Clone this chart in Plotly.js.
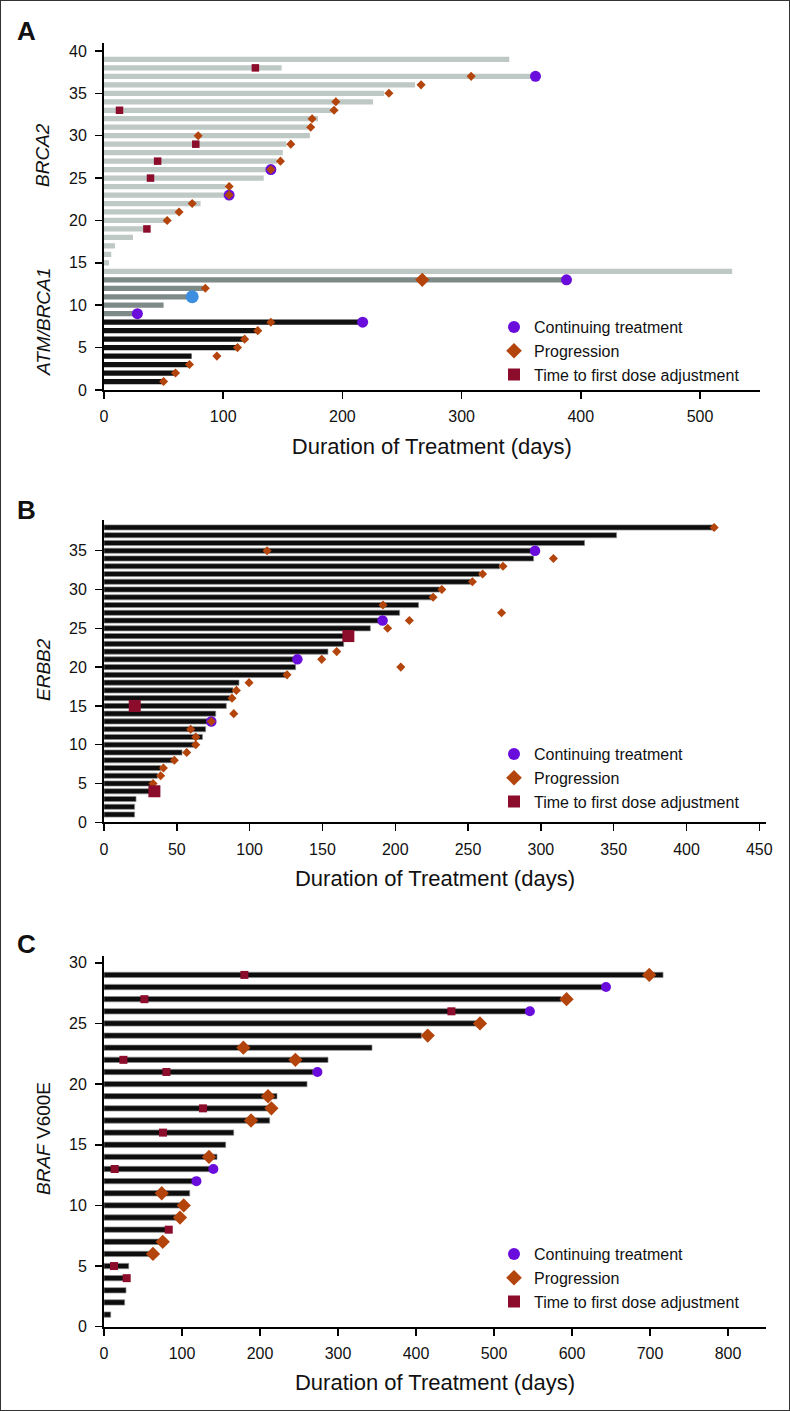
<!DOCTYPE html>
<html>
<head>
<meta charset="utf-8">
<script src="https://cdn.plot.ly/plotly-3.0.1.min.js"></script>
<style>
	html, body { margin: 0; padding: 0; background: #fff; }
	#wrap { position: relative; width: 790px; height: 1411px; }
	#chart { position: absolute; left: 0; top: 0; width: 790px; height: 1411px; }
	#frame { position: absolute; left: 0; top: 0; width: 790px; height: 1411px; box-sizing: border-box; border: 1.5px solid #333; pointer-events: none; }
</style>
</head>
<body>
<div id="wrap"><div id="chart"></div><div id="frame"></div></div>
<script>

/**
* Panel A - BRCA2 / ATM / BRCA1 (days on treatment, rows 1..39)
*/
const aDays = [49, 59.5, 72, 73.5, 112, 118, 128, 217, 27.5, 50, 73.5, 83, 387, 527,
	4.2, 6.1, 9.2, 24.3, 35.7, 52.5, 63.5, 81, 101, 102, 134, 138, 145, 150, 153,
	172.7, 171, 179.6, 191, 225.7, 235, 261, 362, 149, 340];
const aGroup = ['ATM', 'ATM', 'ATM', 'ATM', 'ATM', 'ATM', 'ATM', 'ATM',
	'BRCA1', 'BRCA1', 'BRCA1', 'BRCA1', 'BRCA1',
	'BRCA2', 'BRCA2', 'BRCA2', 'BRCA2', 'BRCA2', 'BRCA2', 'BRCA2', 'BRCA2', 'BRCA2',
	'BRCA2', 'BRCA2', 'BRCA2', 'BRCA2', 'BRCA2', 'BRCA2', 'BRCA2', 'BRCA2', 'BRCA2',
	'BRCA2', 'BRCA2', 'BRCA2', 'BRCA2', 'BRCA2', 'BRCA2', 'BRCA2', 'BRCA2'];
const aContDays = [362, 140, 105, 388, 28, 217];
const aContRow = [37, 26, 23, 13, 9, 8];
const aBlueDays = [74];
const aBlueRow = [11];
const aProgDays = [308, 266, 239, 194.5, 193, 174.6, 173.4, 79, 156.7, 148, 140, 105, 105,
	74, 63, 53, 85, 140, 129, 118, 112, 94.7, 71.7, 60, 50];
const aProgRow = [37, 36, 35, 34, 33, 32, 31, 30, 29, 27, 26, 24, 23,
	22, 21, 20, 12, 8, 7, 6, 5, 4, 3, 2, 1];
const aProgBigDays = [267];
const aProgBigRow = [13];
const aDoseDays = [127, 13, 77, 45, 39, 36];
const aDoseRow = [38, 33, 29, 27, 25, 19];

/**
* Panel B - ERBB2 (rows 1..38)
*/
const bDays = [21, 21, 22, 31.4, 32.6, 36.7, 38.9, 47.4, 53.6, 62, 67.6, 69.8, 71.4, 76.7,
	84, 86.3, 88.6, 92.7, 125.7, 131.6, 131.6, 153.8, 164.6, 165.3, 182.9, 189.3, 203,
	216, 224.8, 230.5, 251.6, 258, 271.7, 295, 293.5, 330, 352, 418];
const bContDays = [296, 191.3, 132.8, 73.7];
const bContRow = [35, 26, 21, 13];
const bProgDays = [419, 112, 308.6, 274, 260, 253, 232, 226, 191.6, 273, 209.7, 194.8,
	159.8, 149.5, 203.8, 125.7, 99.6, 90.9, 87.9, 89.1, 73.7, 59.5, 63, 63, 56.8, 48.3,
	40.8, 38.9, 33.7];
const bProgRow = [38, 35, 34, 33, 32, 31, 30, 29, 28, 27, 26, 25,
	22, 21, 20, 19, 18, 17, 16, 14, 13, 12, 11, 10, 9, 8,
	7, 6, 5];
const bDoseDays = [167.8, 21.1, 34.6];
const bDoseRow = [24, 15, 4];

/**
* Panel C - BRAF V600E (rows 1..29)
*/
const cDays = [8.6, 26.5, 28.2, 26.5, 31.7, 60.8, 73.6, 83, 94.9, 99.2, 109.9, 116.3,
	139.7, 144.9, 156, 166.3, 212.4, 217.6, 221.8, 260.3, 268, 287.2, 343.6, 406.9,
	477.4, 541.5, 586, 640, 716.7];
const cContDays = [643.6, 546, 273.6, 140.2, 118.5];
const cContRow = [28, 26, 21, 13, 12];
const cProgDays = [699, 593, 482, 415, 178.7, 245.4, 210.3, 214.6, 188.5, 134.6, 74,
	102.2, 97.4, 75.3, 62.8];
const cProgRow = [29, 27, 25, 24, 23, 22, 19, 18, 17, 14, 11, 10, 9, 7, 6];
const cDoseDays = [180, 51.8, 445.4, 24.9, 80, 126.9, 75.6, 13.7, 83, 12.8, 29.1];
const cDoseRow = [29, 27, 26, 22, 21, 18, 16, 13, 8, 5, 4];

const legendNames = ['Continuing treatment', 'Progression', 'Time to first dose adjustment'];
const xTitle = 'Duration of Treatment (days)';

(function () {

	'use strict';

	const W = 790, H = 1411, L = 104, R = 24;
	const plotW = W - L - R;
	const FONT = 'Liberation Sans, Arial, Helvetica, sans-serif';

	const PURPLE = '#6a0ddc';
	const ORANGE = '#b3440c';
	const RED = '#8c0c2c';
	const BLUE = '#3c8ee0';
	const groupColor = { ATM: '#111111', BRCA1: '#7e8a87', BRCA2: '#bec8c5' };

	// pixel helpers -> paper coords
	const px = ( x ) => ( x - L ) / plotW;
	const py = ( y ) => 1 - y / H;
	const rows = ( arr ) => arr.map(( d, i ) => i + 1 );

	const bars = ( days, colors, width, ax, edge ) => ({
		type: 'bar', orientation: 'h',
		x: days, y: rows( days ), base: 0,
		width: width,
		marker: { color: colors, line: edge ? { width: 0.7, color: '#8a8a8a' } : { width: 0 } },
		xaxis: 'x' + ax, yaxis: 'y' + ax,
		showlegend: false, hoverinfo: 'skip'
	});

	const pts = ( days, row, symbol, color, size, ax, leg, name ) => ({
		type: 'scatter', mode: 'markers',
		x: days, y: row,
		name: name || '',
		marker: { symbol: symbol, color: color, size: size, line: { width: 0 } },
		xaxis: 'x' + ax, yaxis: 'y' + ax,
		legend: leg || 'legend',
		showlegend: !!name,
		cliponaxis: false,
		hoverinfo: 'skip'
	});

	const data = [
		// A
		bars( aDays, aGroup.map( g => groupColor[g] ), 0.62, '' ),
		pts( aContDays, aContRow, 'circle', PURPLE, 11, '', 'legend', legendNames[0] ),
		pts( aBlueDays, aBlueRow, 'circle', BLUE, 13, '' ),
		pts( aProgDays, aProgRow, 'diamond', ORANGE, 7, '', 'legend', legendNames[1] ),
		pts( aProgBigDays, aProgBigRow, 'diamond', ORANGE, 11, '' ),
		pts( aDoseDays, aDoseRow, 'square', RED, 7.5, '', 'legend', legendNames[2] ),
		// B
		bars( bDays, '#0d0d0d', 0.66, '2', true ),
		pts( bContDays, bContRow, 'circle', PURPLE, 10.5, '2', 'legend2', legendNames[0] ),
		pts( bProgDays, bProgRow, 'diamond', ORANGE, 7, '2', 'legend2', legendNames[1] ),
		pts( bDoseDays, bDoseRow, 'square', RED, 12, '2', 'legend2', legendNames[2] ),
		// C
		bars( cDays, '#0d0d0d', 0.44, '3', true ),
		pts( cContDays, cContRow, 'circle', PURPLE, 10, '3', 'legend3', legendNames[0] ),
		pts( cProgDays, cProgRow, 'diamond', ORANGE, 11, '3', 'legend3', legendNames[1] ),
		pts( cDoseDays, cDoseRow, 'square', RED, 8, '3', 'legend3', legendNames[2] )
	];

	/**
	* Axis templates
	*/
	const axBase = {
		showline: true, linecolor: '#000', linewidth: 2,
		ticks: 'outside', ticklen: 7, tickwidth: 1.5, tickcolor: '#000',
		showgrid: false, zeroline: false, automargin: false,
		tickfont: { size: 16, color: '#111' },
		fixedrange: true
	};
	const xAxis = ( domainEnd, range, dtick, anchor ) => Object.assign({}, axBase, {
		domain: [0, domainEnd], range: range, dtick: dtick, tick0: 0, anchor: anchor,
		ticklabelstandoff: 4,
		title: { text: xTitle, font: { size: 22, color: '#111' }, standoff: 14 }
	});
	const yAxis = ( top, bottom, rmax, anchor ) => Object.assign({}, axBase, {
		domain: [py( bottom ), py( top )], range: [0, rmax], dtick: 5, tick0: 0, anchor: anchor,
		ticklabelstandoff: 5
	});

	const legendAt = ( top ) => ({
		x: px( 494 ), y: py( top ), xanchor: 'left', yanchor: 'top',
		bgcolor: 'rgba(0,0,0,0)', borderwidth: 0,
		font: { size: 16, color: '#111' },
		itemsizing: 'constant', tracegroupgap: 0
	});

	const label = ( text, x, y, size, opts ) => Object.assign({
		text: text, xref: 'paper', yref: 'paper',
		x: px( x ), y: py( y ), xanchor: 'center', yanchor: 'middle',
		showarrow: false, font: { size: size, color: '#111' }
	}, opts || {});

	const layout = {
		width: W, height: H, autosize: false,
		margin: { l: L, r: R, t: 0, b: 0 },
		paper_bgcolor: '#fff', plot_bgcolor: '#fff',
		font: { family: FONT, color: '#111' },
		barmode: 'overlay',
		xaxis: xAxis( 655.6 / plotW, [0, 550], 100, 'y' ),
		yaxis: yAxis( 43.3, 390, 40.9, 'x' ),
		xaxis2: xAxis( 1, [0, 454.6], 50, 'y2' ),
		yaxis2: yAxis( 520, 822.3, 38.96, 'x2' ),
		xaxis3: xAxis( 1, [0, 848.7], 100, 'y3' ),
		yaxis3: yAxis( 956, 1326.7, 30.56, 'x3' ),
		legend: legendAt( 310 ),
		legend2: legendAt( 737 ),
		legend3: legendAt( 1237 ),
		annotations: [
			label( '<b>A</b>', 26, 31, 26 ),
			label( '<b>B</b>', 26, 510, 26 ),
			label( '<b>C</b>', 26, 944, 26 ),
			label( '<i>BRCA2</i>', 43, 155, 19, { textangle: -90 }),
			label( '<i>ATM/BRCA1</i>', 43, 322, 19, { textangle: -90 }),
			label( '<i>ERBB2</i>', 43, 670, 19, { textangle: -90 }),
			label( '<i>BRAF</i> V600E', 43, 1139, 19, { textangle: -90 })
		]
	};

	Plotly.newPlot( 'chart', data, layout, { displayModeBar: false, staticPlot: true });

})();
</script>
</body>
</html>
